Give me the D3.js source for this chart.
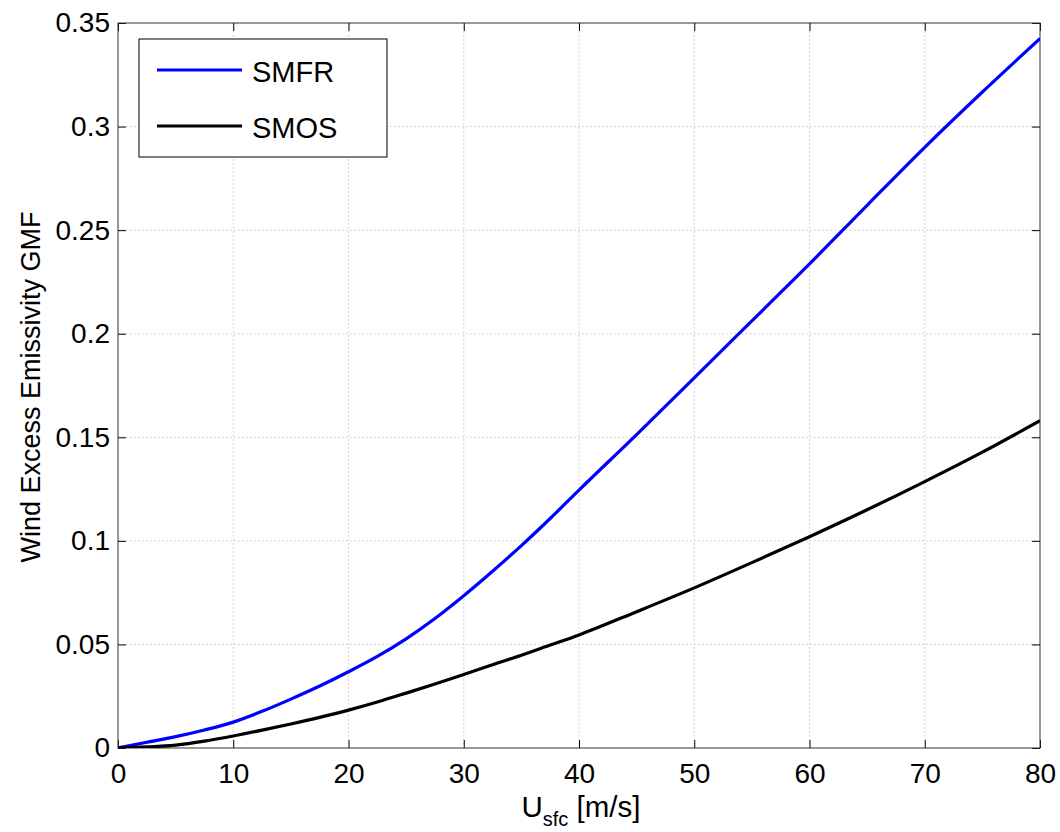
<!DOCTYPE html>
<html><head><meta charset="utf-8">
<script src="https://cdn.jsdelivr.net/npm/d3@7"></script>
<style>body{margin:0;background:#fff}svg{display:block}text{font-family:"Liberation Sans",Arial,sans-serif}</style>
</head><body>
<script>
const windSpeed = [0, 2.5, 5, 7.5, 10, 12.5, 15, 17.5, 20, 22.5, 25, 27.5, 30, 32.5, 35, 37.5, 40, 45, 50, 55, 60, 65, 70, 75, 80];
const smfr = [0, 0.0028, 0.0055, 0.0087, 0.0125, 0.0177, 0.0236, 0.0299, 0.0368, 0.0442, 0.0527, 0.0625, 0.0735, 0.0853, 0.0977, 0.1108, 0.1245, 0.1513, 0.1787, 0.2062, 0.2337, 0.2620, 0.2900, 0.3167, 0.3425];
const smos = [0, 0.0005, 0.0014, 0.0033, 0.0058, 0.0086, 0.0116, 0.0148, 0.0183, 0.0222, 0.0265, 0.0309, 0.0355, 0.0402, 0.0448, 0.0497, 0.0546, 0.0658, 0.0773, 0.0895, 0.1020, 0.1150, 0.1286, 0.1428, 0.1580];
const xTicks = [0,10,20,30,40,50,60,70,80];
const yTicks = [0,0.05,0.1,0.15,0.2,0.25,0.3,0.35];
const seriesNames = ["SMFR","SMOS"];
const seriesColors = ["#0000ff","#000000"];

const W=1060,H=832, L=118, R=1040, T=23, B=748;
const svg=d3.select("body").append("svg").attr("width",W).attr("height",H);
const x=d3.scaleLinear().domain([0,80]).range([L,R]);
const y=d3.scaleLinear().domain([0,0.35]).range([B,T]);

// grid
const g=svg.append("g");
g.selectAll(".gx").data(xTicks.slice(1,-1)).join("line")
 .attr("x1",d=>x(d)).attr("x2",d=>x(d)).attr("y1",T).attr("y2",B)
 .attr("stroke","#c8c8c8").attr("stroke-width",1).attr("stroke-dasharray","1.5,2.5");
g.selectAll(".gy").data(yTicks.slice(1,-1)).join("line")
 .attr("y1",d=>y(d)).attr("y2",d=>y(d)).attr("x1",L).attr("x2",R)
 .attr("stroke","#c8c8c8").attr("stroke-width",1).attr("stroke-dasharray","1.5,2.5");

// axes
const fs=28;
const ax=svg.append("g").attr("transform",`translate(0,${B})`)
 .call(d3.axisBottom(x).tickValues(xTicks).tickSize(-8).tickPadding(15).tickFormat(d3.format("d")));
const ay=svg.append("g").attr("transform",`translate(${L},0)`)
 .call(d3.axisLeft(y).tickValues(yTicks).tickSize(-8).tickPadding(8).tickFormat(d=>d===0?"0":String(+d.toFixed(2))));
const at=svg.append("g").attr("transform",`translate(0,${T})`)
 .call(d3.axisTop(x).tickValues(xTicks).tickSize(-8).tickFormat(""));
const ar=svg.append("g").attr("transform",`translate(${R},0)`)
 .call(d3.axisRight(y).tickValues(yTicks).tickSize(-8).tickFormat(""));
[ax,ay,at,ar].forEach(a=>{
  a.selectAll("path.domain").remove();
  a.selectAll(".tick line").attr("stroke","#000");
  a.selectAll("text").attr("font-size",fs).attr("fill","#000").attr("font-family","Liberation Sans, Arial, sans-serif");
});
ax.selectAll("text").attr("dy","0.71em");
svg.append("rect").attr("x",L).attr("y",T).attr("width",R-L).attr("height",B-T)
 .attr("fill","none").attr("stroke","#333").attr("stroke-width",1);

// lines
const series=[smfr,smos];
const line=d3.line().x((d,i)=>x(windSpeed[i])).y(d=>y(d)).curve(d3.curveMonotoneX);
svg.append("defs").append("clipPath").attr("id","clip").append("rect").attr("x",L).attr("y",T).attr("width",R-L).attr("height",B-T);
series.forEach((s,k)=>{
  svg.append("path").datum(s).attr("d",line).attr("fill","none")
   .attr("stroke",seriesColors[k]).attr("stroke-width",3.2).attr("clip-path","url(#clip)");
});

// legend
const lg=svg.append("g");
lg.append("rect").attr("x",139).attr("y",39).attr("width",248).attr("height",118)
 .attr("fill","#fff").attr("stroke","#000").attr("stroke-width",1);
seriesNames.forEach((n,k)=>{
  const yy=70+k*56;
  lg.append("line").attr("x1",157).attr("x2",242).attr("y1",yy).attr("y2",yy)
   .attr("stroke",seriesColors[k]).attr("stroke-width",3.2);
  lg.append("text").attr("x",252).attr("y",yy+2).attr("dy","0.36em").attr("font-size",29).text(n);
});

// axis labels
const xl=svg.append("text").attr("x",581).attr("y",817).attr("text-anchor","middle").attr("font-size",29.5);
xl.append("tspan").text("U");
xl.append("tspan").attr("font-size",20).attr("dy",9).text("sfc");
xl.append("tspan").attr("dy",-9).text(" [m/s]");
svg.append("text").attr("transform","translate(40,387) rotate(-90)").attr("text-anchor","middle")
 .attr("font-size",27).text("Wind Excess Emissivity GMF");
</script>
</body></html>
